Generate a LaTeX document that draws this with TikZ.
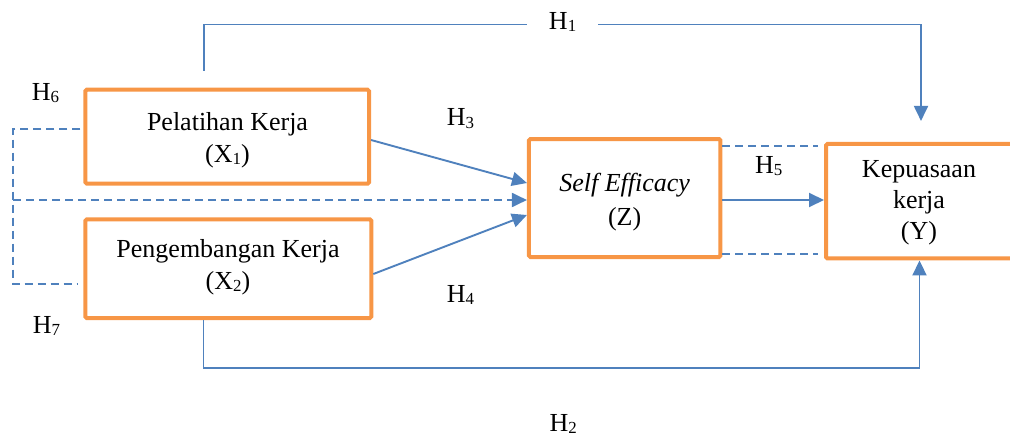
\documentclass[tikz,border=0pt]{standalone}
\usepackage{fontspec}
\setmainfont{Liberation Serif}
\usepackage{graphicx}
\usetikzlibrary{arrows.meta,calc}
\definecolor{boxorange}{HTML}{F79646}
\definecolor{linkblue}{HTML}{4F81BD}
\newcommand\sbs[1]{\raisebox{-0.09em}{\scalebox{0.65}{#1}}}
\begin{document}
\begin{tikzpicture}[x=1pt,y=-1pt,
  varbox/.style={draw=boxorange,line width=4pt,rounded corners=1.5pt,inner sep=0pt,fill=white},
  vartext/.style={align=center,inner sep=0pt,font=\fontsize{26}{32}\selectfont},
  tipped/.style={-{Triangle[length=15pt,width=14pt]}},
  link/.style={draw=linkblue,line width=1.9pt,tipped},
  dashlink/.style={draw=linkblue,line width=1.9pt,dash pattern=on 8pt off 5pt},
  hyp/.style={inner sep=0pt,anchor=base west,font=\fontsize{26}{32}\selectfont}]
\useasboundingbox (0,0) rectangle (1010,436);
\clip (0,0) rectangle (1010,436);

% boxes
\node[varbox,minimum width=283.7pt,minimum height=94pt] (x1) at (227.2,136.7) {};
\node[varbox,minimum width=286pt,minimum height=98.7pt] (x2) at (228.3,268.7) {};
\node[varbox,minimum width=191.5pt,minimum height=118pt] (z) at (624.7,198) {};
\node[varbox,minimum width=187pt,minimum height=114.5pt] (y) at (919.5,201.2) {};

% box texts
\node[vartext] (x1t) at (227.5,140.3) {Pelatihan Kerja\\(X\sbs{1})};
\node[vartext] (x2t) at (228,267.1) {Pengembangan Kerja\\(X\sbs{2})};
\node[vartext,font=\fontsize{26}{33.7}\selectfont] (zt) at (624.6,202.3) {\textit{Self Efficacy}\\(Z)};
\node[vartext,font=\fontsize{26}{31}\selectfont] (yt) at (919,202.6) {Kepuasaan\\kerja\\(Y)};

% helper coordinates
\coordinate (h1s) at (204,71);
\coordinate (h1c) at (562.6,24.5);
\coordinate (lb) at (13,200);
\coordinate (ze) at ([yshift=-2pt]z.east);
\coordinate (zne) at ([yshift=-8.6pt]z.north east);
\coordinate (zse) at ([yshift=5.3pt]z.south east);

% H1
\draw[link,shorten >=21pt] (h1s) |- (h1c) -| ([xshift=1.5pt]y.north);
% H2
\draw[link] ([xshift=-24.8pt]x2.south) -- ++(0,47.5) -| (y.south);
% H3, H4
\draw[link] ([yshift=-3.3pt]x1.east) -- ([yshift=15pt]z.west);
\draw[link] ([yshift=-5.3pt]x2.east) -- ([yshift=-17pt]z.west);
% dashed middle arrow
\draw[dashlink,tipped] (lb) -- ([yshift=-2pt]z.west);
% dashed left bracket
\draw[dashlink,shorten <=3pt,shorten >=6pt] ([yshift=7.7pt]x1.west) -| (lb) |- ([yshift=-15.3pt]x2.west);
% H5
\draw[link] (ze) -- (ze -| y.west);
\draw[dashlink,shorten >=6pt] (zne) -- (zne -| y.west);
\draw[dashlink,shorten >=6pt] (zse) -- (zse -| y.west);

% labels
\node[hyp,anchor=base,fill=white,inner xsep=22pt] (h1) at (562.6,29.3) {H\sbs{1}};
\node[hyp] (h2) at (549.3,431) {H\sbs{2}};
\node[hyp] (h3) at (446.7,125.7) {H\sbs{3}};
\node[hyp] (h4) at (446.7,302.3) {H\sbs{4}};
\node[hyp] (h5) at (755,173.3) {H\sbs{5}};
\node[hyp] (h6) at (31.7,100) {H\sbs{6}};
\node[hyp] (h7) at (32.7,333.3) {H\sbs{7}};
\end{tikzpicture}
\end{document}
